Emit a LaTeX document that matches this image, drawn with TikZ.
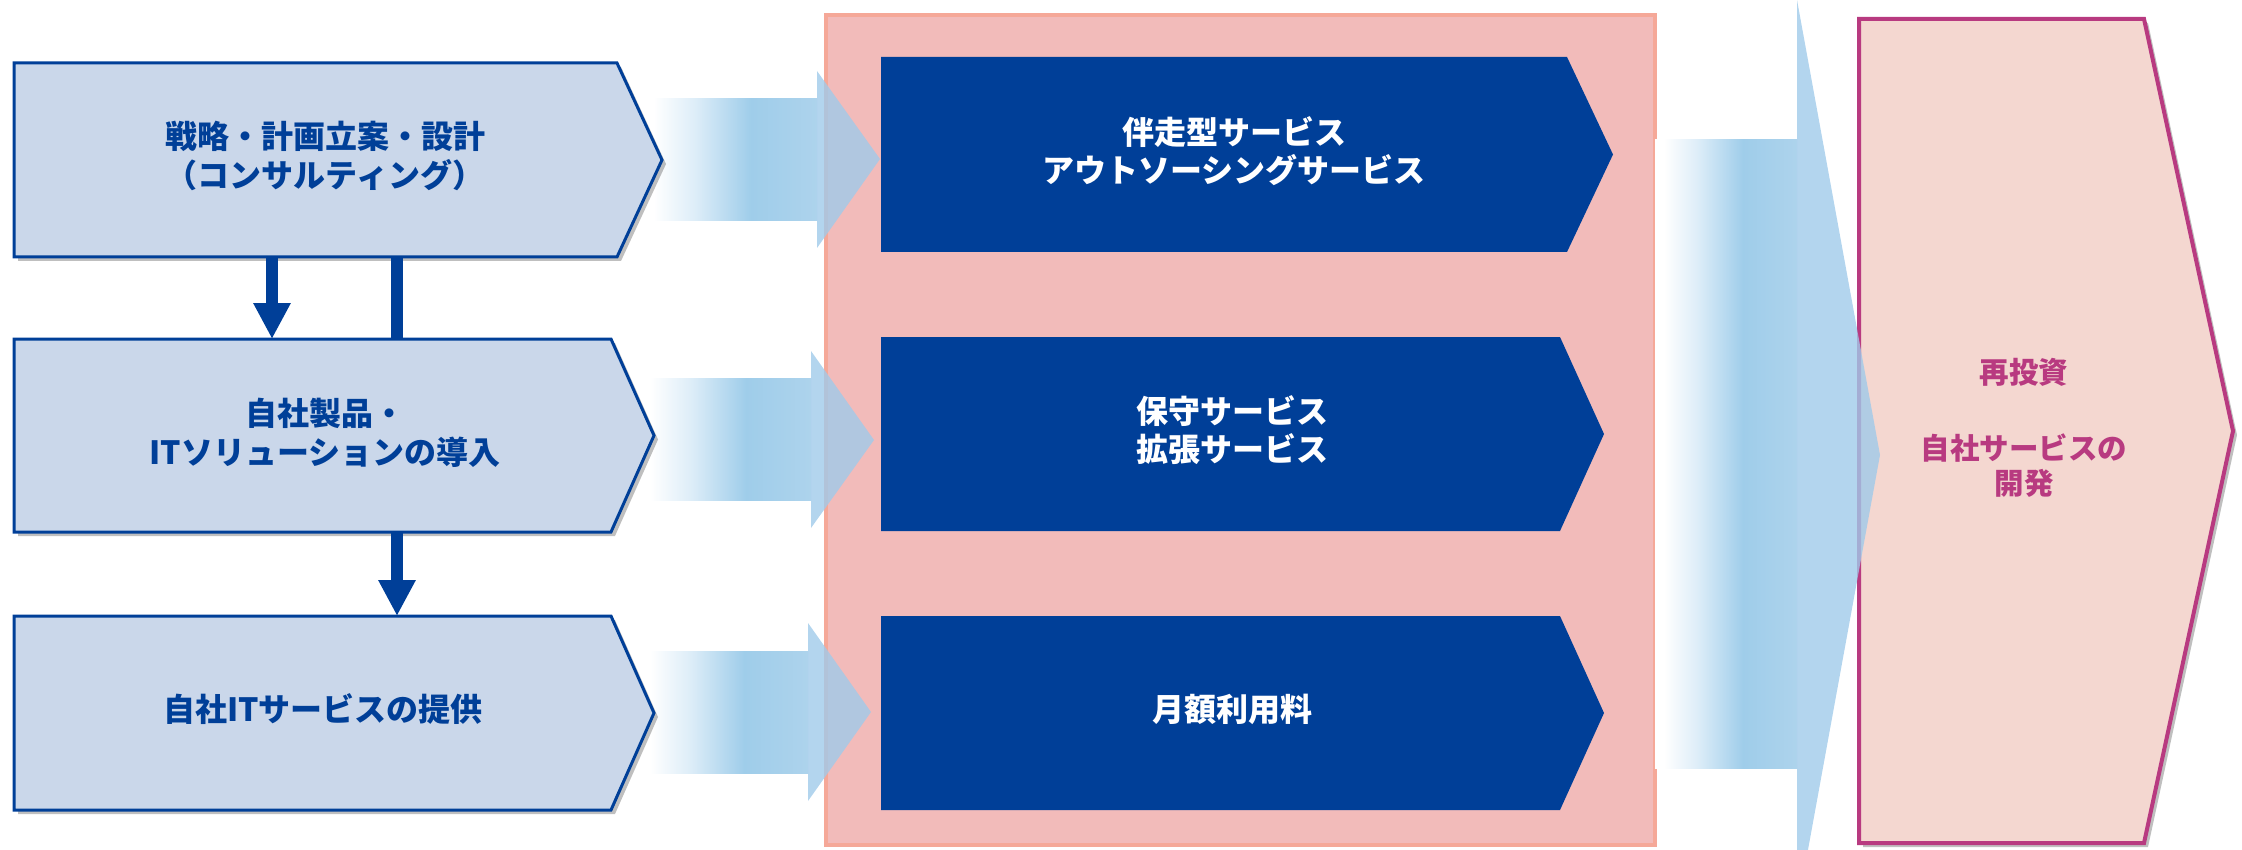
\documentclass[tikz,border=0pt]{standalone}
\usepackage{fontspec}
\newfontfamily\jp{Noto Sans CJK JP}
\usetikzlibrary{arrows.meta,shadows,calc}
\definecolor{navy}{RGB}{0,63,152}
\definecolor{lfill}{RGB}{202,215,234}
\definecolor{panelfill}{RGB}{242,187,186}
\definecolor{panelline}{RGB}{245,168,152}
\definecolor{rfill}{RGB}{244,215,208}
\definecolor{rline}{RGB}{184,58,128}
\definecolor{gA}{RGB}{221,237,248}
\definecolor{gB}{RGB}{159,205,234}
\definecolor{gC}{RGB}{173,211,236}
\definecolor{headc}{RGB}{160,202,234}
\pgfdeclarelayer{shapes}
\pgfsetlayers{shapes,main}
% the path's box covers 25bp..75bp of the shading
\pgfdeclarehorizontalshading{flow}{100bp}{color(0bp)=(white); color(28bp)=(white); color(40bp)=(gA); color(56bp)=(gB); color(75bp)=(gC); color(100bp)=(gC)}
\newcommand\chev[3]{\path[#1] (#2.north west) -- (#2.north east) -- ($(#2.east)+(#3,0)$) -- (#2.south east) -- (#2.south west) -- cycle;}
\begin{document}
\begin{tikzpicture}[x=0.5pt,y=-0.5pt,
  body/.style={rectangle, inner sep=0pt, outer sep=0pt},
  lshape/.style={fill=lfill, draw=navy, line width=1.5pt, line join=miter,
    drop shadow={shadow xshift=2pt, shadow yshift=-2pt, opacity=0.25, fill=black}},
  mshape/.style={fill=navy},
  rshape/.style={fill=rfill, draw=rline, line width=2pt, line join=miter,
    drop shadow={shadow xshift=2pt, shadow yshift=-2pt, opacity=0.25, fill=black}},
  panel/.style={fill=panelfill, draw=panelline, line width=2pt},
  head/.style={fill=headc, fill opacity=0.8},
  ltext/.style={align=center, text=navy, inner sep=0pt, font=\jp\bfseries\fontsize{16pt}{19.5pt}\selectfont},
  mtext/.style={align=center, text=white, inner sep=0pt, font=\jp\bfseries\fontsize{16pt}{19pt}\selectfont},
  rtext/.style={align=center, text=rline, inner sep=0pt, font=\jp\bfseries\fontsize{14.75pt}{17.5pt}\selectfont},
  downline/.style={draw=navy, line width=5.75pt},
  downarr/.style={downline, -{Triangle[width=17.5pt,length=18pt]}}]
\useasboundingbox (0,0) rectangle (2242,850);
\clip (0,0) rectangle (2242,850);
% box bodies (flat part of each chevron)
\node[body, minimum width=301.5pt, minimum height=97pt] (L1) at (315.5,160) {};
\node[body, minimum width=298.5pt, minimum height=96.5pt] (L2) at (312.5,435.5) {};
\node[body, minimum width=298.5pt, minimum height=97pt] (L3) at (312.5,713) {};
\node[body, minimum width=343pt, minimum height=97.5pt] (M1) at (1224,154.5) {};
\node[body, minimum width=339.5pt, minimum height=97pt] (M2) at (1220.5,434) {};
\node[body, minimum width=339.5pt, minimum height=97pt] (M3) at (1220.5,713) {};
\node[body, minimum width=142.5pt, minimum height=412pt] (R) at (2001.5,431) {};
\begin{pgfonlayer}{shapes}
  \shade[shading=flow] (643,99) rectangle (817,221);
  \shade[shading=flow] (640,378) rectangle (811,500);
  \shade[shading=flow] (640,651) rectangle (808,773);
  \path[panel] (826,15) rectangle (1655,845);
  \shade[shading=flow] (1655,140) rectangle (1797,768);
  \chev{lshape}{L1}{45}
  \chev{lshape}{L2}{43}
  \chev{lshape}{L3}{43}
  \path[head] (817,71) -- (880,159) -- (817,248) -- cycle;
  \path[head] (811,351) -- (874,440) -- (811,528) -- cycle;
  \path[head] (808,623) -- (871,712) -- (808,801) -- cycle;
  \chev{mshape}{M1}{46}
  \chev{mshape}{M2}{44}
  \chev{mshape}{M3}{44}
  \chev{rshape}{R}{89}
  \path[head] (1797,0) -- (1880,455) -- (1797,910) -- cycle;
\end{pgfonlayer}
% texts
\node[ltext] (L1t) at (325,155.5) {戦略・計画立案・設計\\（コンサルティング）};
\node[ltext] (L2t) at (325,432.5) {自社製品・\\ITソリューションの導入};
\node[ltext] (L3t) at (323,709) {自社ITサービスの提供};
\node[mtext] (M1t) at (1234,151) {伴走型サービス\\アウトソーシングサービス};
\node[mtext] (M2t) at (1232,430) {保守サービス\\拡張サービス};
\node[mtext] (M3t) at (1232,709) {月額利用料};
\node[rtext] (Rt) at (2024,428) {再投資\\[20.5pt]自社サービスの\\開発};
% connectors between the left boxes
\coordinate (xa) at (272,0);
\coordinate (xb) at (397,0);
\draw[downarr] (L1.south -| xa) -- (L2.north -| xa);
\draw[downline] (L1.south -| xb) -- (L2.north -| xb);
\draw[downarr] (L2.south -| xb) -- (L3.north -| xb);
\end{tikzpicture}
\end{document}
